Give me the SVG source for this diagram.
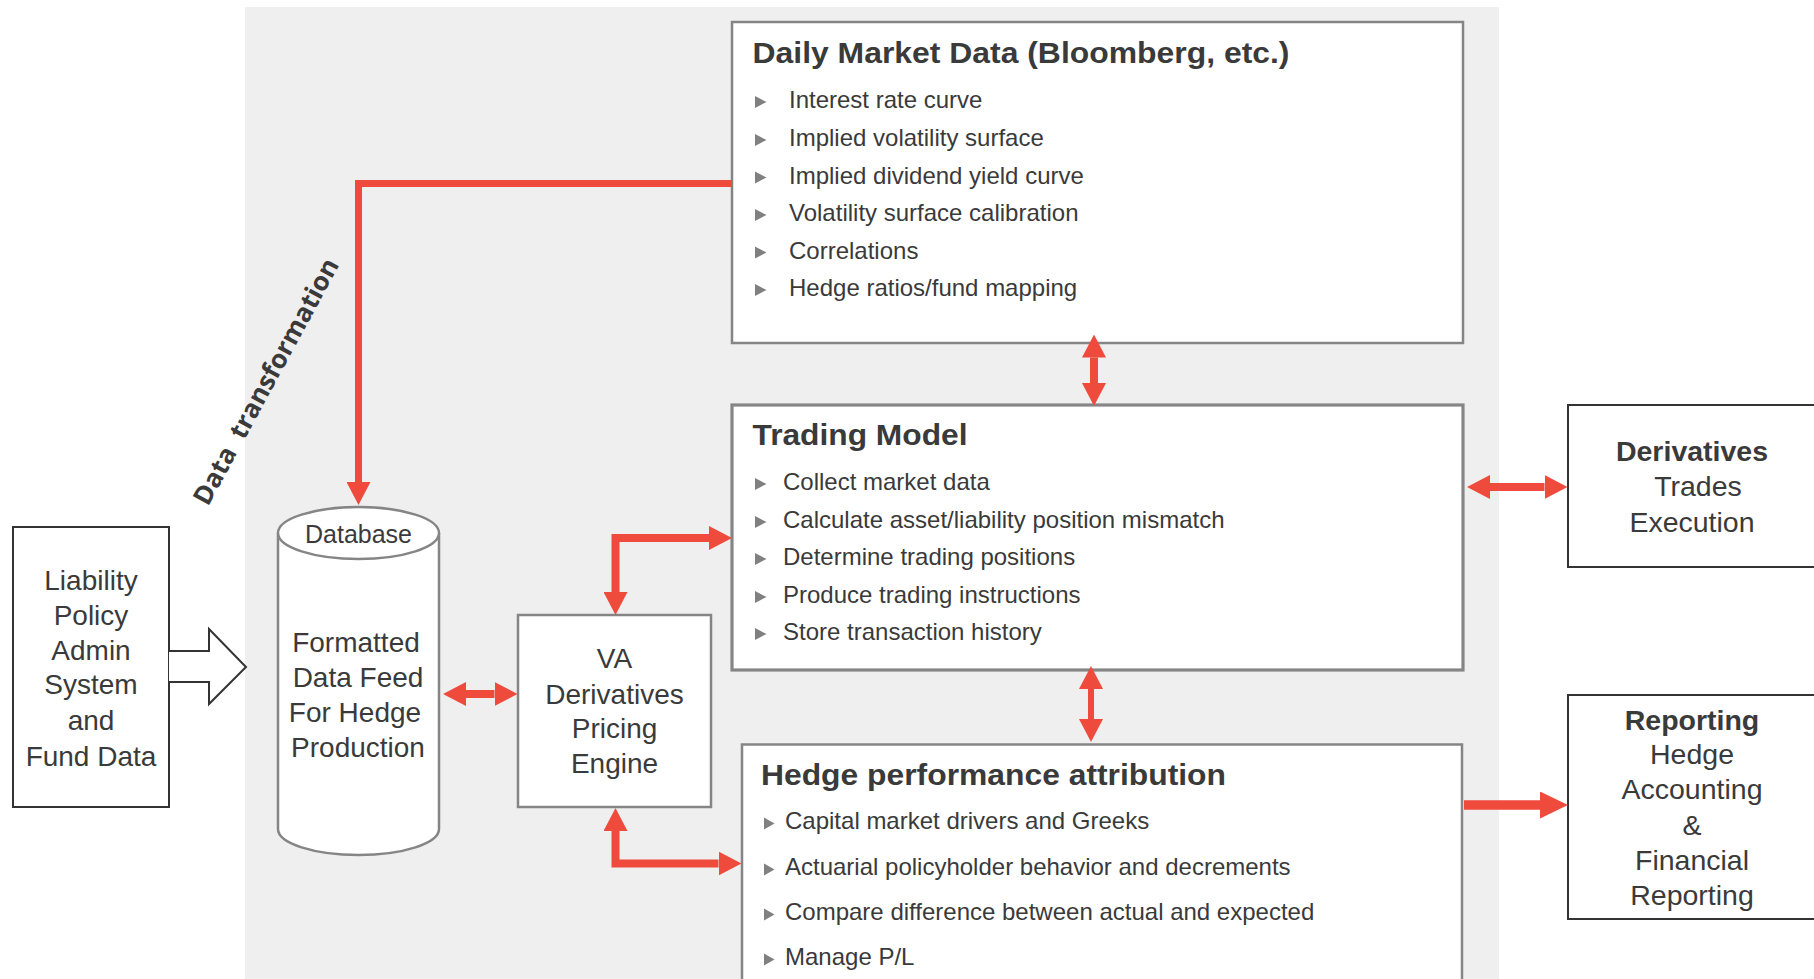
<svg xmlns="http://www.w3.org/2000/svg" width="1814" height="979" viewBox="0 0 1814 979">
  <style>
    .panel { fill: #efefef; }
    .box { fill: #ffffff; stroke: #858585; stroke-width: 2.5; }
    .box-thick { fill: #ffffff; stroke: #858585; stroke-width: 3.2; }
    .box-dark { fill: #ffffff; stroke: #333333; stroke-width: 2; }
    .txt { font-family: "Liberation Sans", Arial, sans-serif; fill: #3a3a3a; }
    .head { font-size: 29px; font-weight: bold; }
    .item { font-size: 24px; }
    .label { font-size: 28px; text-anchor: middle; }
    .side { font-size: 28.5px; text-anchor: middle; }
    .bold { font-weight: bold; }
    .bullet { fill: #808080; }
    .link { fill: none; stroke: #ee4b3d; stroke-linejoin: miter; }
    .rot { font-family: "Open Sans", "Liberation Sans", sans-serif; font-weight: bold; font-size: 26px; fill: #3a3a3a; }
  </style>
  <defs>
    <marker id="ah" viewBox="0 0 23 24" refX="0" refY="12" markerWidth="23" markerHeight="24" markerUnits="userSpaceOnUse" orient="auto-start-reverse">
      <path d="M0,0 L23,12 L0,24 Z" fill="#ee4b3d"/>
    </marker>
    <marker id="ah-big" viewBox="0 0 28 27" refX="0" refY="13.5" markerWidth="28" markerHeight="27" markerUnits="userSpaceOnUse" orient="auto-start-reverse">
      <path d="M0,0 L28,13.5 L0,27 Z" fill="#ee4b3d"/>
    </marker>
    <path id="tri" d="M0,-6 L11.5,0 L0,6 Z"/>
    <path id="tri-s" d="M0,-6 L10.5,0 L0,6 Z"/>
  </defs>

  <!-- shaded processing area -->
  <rect class="panel" x="245" y="7" width="1254" height="990"/>

  <!-- source system feeding the database -->
  <g id="liability-admin">
    <rect class="box-dark" x="13" y="527" width="156" height="280"/>
    <text class="txt label" x="91" y="590">Liability</text>
    <text class="txt label" x="91" y="625">Policy</text>
    <text class="txt label" x="91" y="660">Admin</text>
    <text class="txt label" x="91" y="694">System</text>
    <text class="txt label" x="91" y="730">and</text>
    <text class="txt label" x="91" y="766">Fund Data</text>
  </g>

  <g id="feed-arrow">
    <path d="M169,651 L209,651 L209,629 L246,667 L209,704 L209,682 L169,682" fill="#ffffff" stroke="#333333" stroke-width="2" stroke-linejoin="miter"/>
  </g>

  <g id="database">
    <path d="M278,533 V829 A80.5,26 0 0 0 439,829 V533" fill="#ffffff" stroke="#858585" stroke-width="2.5"/>
    <ellipse cx="358.5" cy="533" rx="80.5" ry="26" fill="#ffffff" stroke="#858585" stroke-width="2.5"/>
    <text class="txt" x="358.5" y="543" font-size="25" text-anchor="middle">Database</text>
    <text class="txt label" x="356" y="652">Formatted</text>
    <text class="txt label" x="358" y="687">Data Feed</text>
    <text class="txt label" x="355" y="722">For Hedge</text>
    <text class="txt label" x="358" y="757">Production</text>
  </g>

  <g id="pricing-engine">
    <rect class="box" x="518" y="615" width="193" height="192"/>
    <text class="txt label" x="614.5" y="668">VA</text>
    <text class="txt label" x="614.5" y="704">Derivatives</text>
    <text class="txt label" x="614.5" y="738">Pricing</text>
    <text class="txt label" x="614.5" y="773">Engine</text>
  </g>

  <g id="market-data">
    <rect class="box" x="732" y="22" width="731" height="321"/>
    <text class="txt head" x="752.5" y="63" textLength="537" lengthAdjust="spacingAndGlyphs">Daily Market Data (Bloomberg, etc.)</text>
    <use href="#tri" class="bullet" x="755" y="102"/>
    <text class="txt item" x="789" y="108">Interest rate curve</text>
    <use href="#tri" class="bullet" x="755" y="140"/>
    <text class="txt item" x="789" y="146">Implied volatility surface</text>
    <use href="#tri" class="bullet" x="755" y="177.5"/>
    <text class="txt item" x="789" y="183.5">Implied dividend yield curve</text>
    <use href="#tri" class="bullet" x="755" y="215"/>
    <text class="txt item" x="789" y="221">Volatility surface calibration</text>
    <use href="#tri" class="bullet" x="755" y="252.5"/>
    <text class="txt item" x="789" y="258.5">Correlations</text>
    <use href="#tri" class="bullet" x="755" y="290"/>
    <text class="txt item" x="789" y="296">Hedge ratios/fund mapping</text>
  </g>

  <g id="trading-model">
    <rect class="box-thick" x="732" y="405" width="731" height="265"/>
    <text class="txt head" x="752.5" y="445" textLength="215" lengthAdjust="spacingAndGlyphs">Trading Model</text>
    <use href="#tri" class="bullet" x="755" y="484"/>
    <text class="txt item" x="783" y="490">Collect market data</text>
    <use href="#tri" class="bullet" x="755" y="522"/>
    <text class="txt item" x="783" y="528">Calculate asset/liability position mismatch</text>
    <use href="#tri" class="bullet" x="755" y="559"/>
    <text class="txt item" x="783" y="565">Determine trading positions</text>
    <use href="#tri" class="bullet" x="755" y="597"/>
    <text class="txt item" x="783" y="603">Produce trading instructions</text>
    <use href="#tri" class="bullet" x="755" y="634"/>
    <text class="txt item" x="783" y="640">Store transaction history</text>
  </g>

  <g id="hedge-attribution">
    <rect class="box" x="742" y="744.5" width="720" height="260"/>
    <text class="txt head" x="761" y="785" textLength="465" lengthAdjust="spacingAndGlyphs">Hedge performance attribution</text>
    <use href="#tri-s" class="bullet" x="764" y="823.5"/>
    <text class="txt item" x="785" y="829">Capital market drivers and Greeks</text>
    <use href="#tri-s" class="bullet" x="764" y="869.5"/>
    <text class="txt item" x="785" y="875">Actuarial policyholder behavior and decrements</text>
    <use href="#tri-s" class="bullet" x="764" y="914.5"/>
    <text class="txt item" x="785" y="920">Compare difference between actual and expected</text>
    <use href="#tri-s" class="bullet" x="764" y="959.5"/>
    <text class="txt item" x="785" y="965">Manage P/L</text>
  </g>

  <g id="trades-execution">
    <rect class="box-dark" x="1568" y="405" width="252" height="162"/>
    <text class="txt side bold" x="1692" y="461">Derivatives</text>
    <text class="txt side" x="1698" y="496">Trades</text>
    <text class="txt side" x="1692" y="532">Execution</text>
  </g>

  <g id="reporting">
    <rect class="box-dark" x="1568" y="695" width="252" height="224"/>
    <text class="txt side bold" x="1692" y="729.5">Reporting</text>
    <text class="txt side" x="1692" y="764">Hedge</text>
    <text class="txt side" x="1692" y="799">Accounting</text>
    <text class="txt side" x="1692" y="834.5">&amp;</text>
    <text class="txt side" x="1692" y="870">Financial</text>
    <text class="txt side" x="1692" y="905">Reporting</text>
  </g>

  <g id="connectors">
    <path class="link" d="M732,183.5 H358.5 V482" stroke-width="7" marker-end="url(#ah)"/>
    <path class="link" d="M1094,357.5 V383" stroke-width="8" marker-start="url(#ah)" marker-end="url(#ah)"/>
    <path class="link" d="M1091,689 V719" stroke-width="6" marker-start="url(#ah)" marker-end="url(#ah)"/>
    <path class="link" d="M615.5,592 V538 H709" stroke-width="8" marker-start="url(#ah)" marker-end="url(#ah)"/>
    <path class="link" d="M615.5,831 V863.5 H718.5" stroke-width="8" marker-start="url(#ah)" marker-end="url(#ah)"/>
    <path class="link" d="M466,694 H494.5" stroke-width="8" marker-start="url(#ah)" marker-end="url(#ah)"/>
    <path class="link" d="M1490,487 H1544.5" stroke-width="8" marker-start="url(#ah)" marker-end="url(#ah)"/>
    <path class="link" d="M1464,805 H1540" stroke-width="9.5" marker-end="url(#ah-big)"/>
    <text class="rot" transform="translate(208 507) rotate(-61.5)" x="0" y="0" xml:space="preserve">Data  transformation</text>
  </g>
</svg>
